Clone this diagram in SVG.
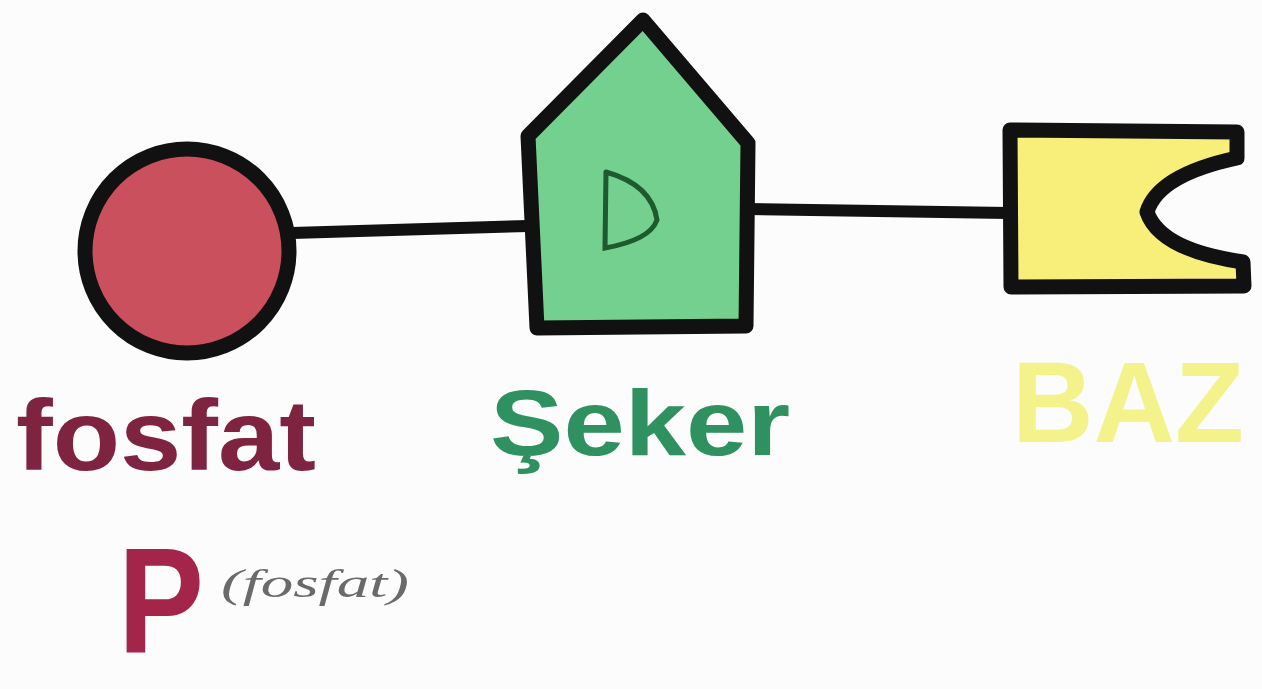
<svg xmlns="http://www.w3.org/2000/svg" width="1262" height="689" viewBox="0 0 1262 689">
  <style>
    .outline { stroke: #111; stroke-width: 15; stroke-linejoin: round; stroke-linecap: round; }
    .conn { stroke: #111; stroke-width: 12; fill: none; stroke-linecap: round; }
    .lbl { font-family: "Liberation Sans", Arial, sans-serif; font-weight: bold; }
  </style>
  <rect width="1262" height="689" fill="#fbfcfb"/>
  <g id="connectors">
    <path class="conn" d="M292,233 L528,226"/>
    <path class="conn" d="M748,209 L1008,213"/>
  </g>
  <g id="fosfat">
    <circle cx="187" cy="251" r="102" fill="#c9505c" class="outline"/>
    <text class="lbl" x="16" y="470" font-size="100" fill="#7e2440" textLength="300" lengthAdjust="spacingAndGlyphs">fosfat</text>
    <text class="lbl" x="118" y="652" font-size="150" fill="#a3264a" font-weight="normal" textLength="86" lengthAdjust="spacingAndGlyphs">P</text>
    <text x="221" y="597" font-family="Liberation Serif, serif" font-style="italic" font-size="40" fill="#6a6a6a" textLength="188" lengthAdjust="spacingAndGlyphs">(fosfat)</text>
  </g>
  <g id="seker">
    <path d="M643,20 L748,143 L746,326 L537,328 L528,136 Z" fill="#74d08e" class="outline"/>
    <path d="M606,172 L605,248 Q650,240 657,220 Q652,185 606,172" fill="none" stroke="#1d5a2e" stroke-width="5" stroke-linecap="round"/>
    <text class="lbl" x="490" y="455" font-size="92" fill="#2f9060" textLength="300" lengthAdjust="spacingAndGlyphs">Şeker</text>
  </g>
  <g id="baz">
    <path d="M1010,130 L1237,132 L1237,158 Q1158,175 1147,212 Q1160,250 1243,262 L1244,286 L1011,287 Z" fill="#f8ee7a" class="outline"/>
    <text class="lbl" x="1012" y="442" font-size="115" fill="#f4f28a" textLength="232" lengthAdjust="spacingAndGlyphs">BAZ</text>
  </g>
</svg>
